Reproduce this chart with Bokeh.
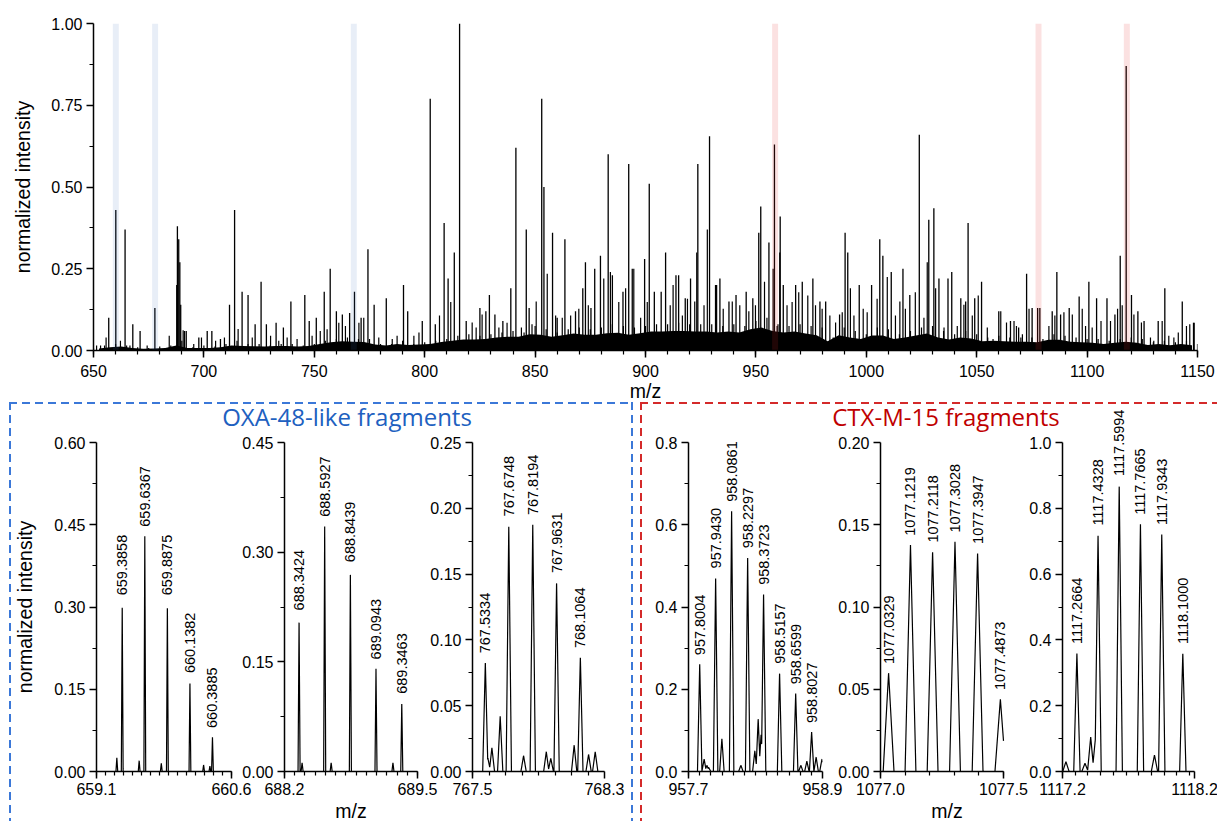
import numpy as np
from bokeh.plotting import figure
from bokeh.models import Range1d, FixedTicker, PrintfTickFormatter, Label, LabelSet, ColumnDataSource
from bokeh.layouts import column, row
from bokeh.embed import file_html
from bokeh.resources import INLINE
from bokeh.core.properties import value

FONT = "Liberation Sans"
TITLE_FONT = "Open Sans"

# ---------------- overview spectrum data ----------------
overview_x_ticks = [650, 700, 750, 800, 850, 900, 950, 1000, 1050, 1100, 1150]
overview_y_ticks = [0.0, 0.25, 0.50, 0.75, 1.00]

# dense low-level background: small spikes every 5 m/z and the filled floor between them
env_top_mz = list(range(650, 1151, 5))
env_top_int = [0.008, 0.015, 0.02, 0.015, 0.01, 0.008, 0.012, 0.015, 0.03, 0.01,
               0.015, 0.012, 0.02, 0.03, 0.02, 0.02, 0.015, 0.02, 0.02, 0.015,
               0.02, 0.03, 0.035, 0.04, 0.035, 0.035, 0.02, 0.02, 0.03, 0.02,
               0.025, 0.03, 0.035, 0.045, 0.05, 0.045, 0.05, 0.055, 0.06, 0.055,
               0.075, 0.065, 0.055, 0.065, 0.07, 0.065, 0.07, 0.08, 0.075, 0.07,
               0.075, 0.08, 0.08, 0.085, 0.08, 0.08, 0.08, 0.075, 0.08, 0.075,
               0.09, 0.10, 0.08, 0.075, 0.08, 0.075, 0.07, 0.04, 0.07, 0.06,
               0.05, 0.07, 0.065, 0.05, 0.06, 0.07, 0.075, 0.06, 0.05, 0.06,
               0.05, 0.04, 0.045, 0.04, 0.04, 0.04, 0.035, 0.05, 0.045, 0.04,
               0.035, 0.035, 0.03, 0.035, 0.04, 0.035, 0.025, 0.03, 0.025, 0.03,
               0.02]
env_low_mz = [652.5 + 5 * k for k in range(100)]
env_low_int = [0.006, 0.01, 0.012, 0.008, 0.005, 0.006, 0.008, 0.015, 0.008, 0.008,
               0.008, 0.01, 0.015, 0.014, 0.013, 0.012, 0.014, 0.014, 0.012, 0.014,
               0.02, 0.025, 0.028, 0.027, 0.026, 0.018, 0.015, 0.02, 0.017, 0.018,
               0.02, 0.026, 0.03, 0.034, 0.034, 0.035, 0.04, 0.042, 0.042, 0.05,
               0.048, 0.042, 0.047, 0.052, 0.048, 0.048, 0.053, 0.054, 0.048, 0.053,
               0.058, 0.058, 0.06, 0.06, 0.058, 0.058, 0.055, 0.058, 0.055, 0.065,
               0.07, 0.06, 0.055, 0.058, 0.052, 0.047, 0.028, 0.047, 0.04, 0.035,
               0.046, 0.046, 0.035, 0.04, 0.046, 0.052, 0.04, 0.034, 0.04, 0.037,
               0.028, 0.03, 0.028, 0.027, 0.027, 0.025, 0.033, 0.033, 0.027, 0.025,
               0.024, 0.02, 0.024, 0.027, 0.024, 0.017, 0.02, 0.016, 0.02, 0.016]

major_mz = [656.9, 660.1, 664.3, 667.8, 671.1, 677.8, 687.7, 688.0, 688.6, 689.1,
            689.5, 691.2, 692.0, 697.7, 701.5, 703.6, 707.5, 711.6, 713.9, 717.3,
            720.0, 723.2, 725.9, 728.3, 732.7, 736.0, 739.4, 745.7, 747.7, 750.9,
            754.5, 757.2, 760.0, 762.7, 766.0, 768.2, 771.2, 774.3, 777.1, 782.6,
            790.4, 792.3, 798.9, 802.5, 804.8, 808.8, 810.6, 813.4, 815.8, 818.8,
            825.0, 827.7, 829.3, 831.8, 835.4, 839.0, 841.3, 846.0, 847.3, 853.0,
            854.0, 857.9, 860.0, 863.5, 868.3, 871.6, 872.8, 875.3, 877.0, 879.6,
            883.1, 885.0, 889.8, 892.4, 894.0, 899.6, 901.7, 904.0, 907.1, 909.1,
            913.8, 915.0, 918.0, 920.4, 923.7, 929.0, 932.2, 933.7, 937.8, 941.0,
            945.6, 948.6, 951.3, 952.2, 955.9, 958.4, 961.0, 962.4, 968.0, 971.0,
            975.8, 979.0, 981.6, 987.9, 990.4, 991.6, 996.8, 1002.4, 1006.1, 1007.5,
            1011.3, 1016.6, 1019.7, 1024.0, 1028.3, 1030.6, 1032.9, 1037.0, 1038.7, 1042.8,
            1045.0, 1046.1, 1049.1, 1052.2, 1060.0, 1065.3, 1069.0, 1072.6, 1075.1, 1077.6,
            1078.6, 1084.2, 1086.3, 1088.0, 1091.9, 1096.4, 1100.8, 1104.3, 1109.0, 1112.6,
            1115.0, 1117.7, 1120.1, 1123.0, 1125.8, 1132.2, 1135.2, 1143.1, 1148.2]
major_int = [0.10, 0.43, 0.37, 0.08, 0.06, 0.13, 0.20, 0.38, 0.34, 0.27,
             0.14, 0.06, 0.06, 0.04, 0.06, 0.06, 0.035, 0.14, 0.43, 0.18,
             0.17, 0.08, 0.21, 0.08, 0.085, 0.07, 0.15, 0.17, 0.09, 0.10,
             0.18, 0.25, 0.12, 0.11, 0.115, 0.18, 0.10, 0.31, 0.14, 0.16,
             0.20, 0.12, 0.09, 0.77, 0.08, 0.39, 0.22, 0.30, 1.00, 0.09,
             0.13, 0.12, 0.17, 0.11, 0.09, 0.19, 0.62, 0.37, 0.13, 0.77,
             0.50, 0.36, 0.10, 0.34, 0.12, 0.19, 0.27, 0.13, 0.25, 0.29,
             0.60, 0.23, 0.18, 0.57, 0.25, 0.28, 0.51, 0.18, 0.18, 0.30,
             0.23, 0.23, 0.16, 0.22, 0.57, 0.655, 0.20, 0.22, 0.15, 0.17,
             0.18, 0.16, 0.36, 0.44, 0.33, 0.63, 0.41, 0.20, 0.20, 0.21,
             0.22, 0.15, 0.15, 0.11, 0.36, 0.30, 0.20, 0.20, 0.34, 0.29,
             0.24, 0.25, 0.17, 0.66, 0.40, 0.435, 0.22, 0.22, 0.24, 0.16,
             0.15, 0.39, 0.16, 0.21, 0.12, 0.09, 0.07, 0.235, 0.13, 0.13,
             0.13, 0.12, 0.24, 0.11, 0.13, 0.165, 0.21, 0.16, 0.16, 0.11,
             0.29, 0.87, 0.17, 0.12, 0.09, 0.09, 0.19, 0.15, 0.085]

minor_mz = [651.4, 653.2, 655.7, 662.2, 666.5, 674.3, 684.3, 690.6, 695.4, 698.9,
            705.3, 709.3, 715.5, 721.9, 730.2, 733.9, 737.7, 742.2, 749.0, 752.7,
            755.8, 761.1, 764.1, 770.2, 772.4, 779.2, 785.3, 787.5, 795.1, 797.4,
            806.7, 811.8, 821.5, 823.3, 826.0, 833.6, 837.3, 843.8, 848.6, 850.5,
            855.5, 859.3, 862.3, 866.1, 869.8, 874.1, 881.1, 884.1, 887.9, 891.0,
            894.7, 897.8, 900.8, 911.2, 912.5, 916.7, 919.0, 922.3, 923.2, 926.5,
            928.0, 931.7, 935.2, 939.3, 942.7, 946.8, 949.8, 953.9, 957.8, 959.6,
            960.8, 964.1, 966.4, 969.4, 973.5, 977.0, 980.0, 983.5, 986.1, 989.1,
            992.8, 994.4, 998.6, 1000.4, 1004.9, 1009.5, 1013.2, 1015.2, 1017.7, 1022.2,
            1026.1, 1027.6, 1031.4, 1035.2, 1041.2, 1044.2, 1048.0, 1050.7, 1054.8, 1057.4,
            1060.9, 1063.5, 1066.9, 1068.0, 1070.7, 1073.7, 1082.7, 1085.4, 1089.5, 1093.3,
            1097.8, 1099.3, 1102.3, 1106.3, 1110.6, 1113.8, 1115.9, 1121.2, 1124.6, 1128.7,
            1130.2, 1134.0, 1137.0, 1139.3, 1141.3, 1145.0, 1146.5, 1148.5]
minor_int = [0.015, 0.015, 0.04, 0.03, 0.015, 0.015, 0.045, 0.062, 0.02, 0.04,
             0.03, 0.04, 0.066, 0.04, 0.045, 0.03, 0.04, 0.035, 0.045, 0.06,
             0.065, 0.085, 0.075, 0.085, 0.10, 0.04, 0.035, 0.045, 0.045, 0.055,
             0.107, 0.148, 0.086, 0.07, 0.11, 0.07, 0.085, 0.07, 0.08, 0.15,
             0.235, 0.107, 0.10, 0.107, 0.128, 0.138, 0.22, 0.24, 0.148, 0.19,
             0.25, 0.10, 0.148, 0.138, 0.20, 0.107, 0.158, 0.15, 0.30, 0.138,
             0.37, 0.20, 0.128, 0.15, 0.138, 0.12, 0.138, 0.21, 0.25, 0.075,
             0.30, 0.138, 0.148, 0.178, 0.168, 0.138, 0.128, 0.107, 0.086, 0.117,
             0.19, 0.107, 0.128, 0.117, 0.158, 0.225, 0.107, 0.15, 0.128, 0.178,
             0.10, 0.27, 0.19, 0.07, 0.075, 0.14, 0.107, 0.168, 0.07, 0.035,
             0.12, 0.086, 0.09, 0.075, 0.05, 0.128, 0.075, 0.107, 0.117, 0.11,
             0.128, 0.075, 0.07, 0.09, 0.09, 0.128, 0.138, 0.11, 0.086, 0.04,
             0.03, 0.09, 0.045, 0.04, 0.055, 0.075, 0.08, 0.085]

oxa_band_mz = [660.1, 677.9, 767.9]
ctx_band_mz = [958.7, 1078.0, 1118.0]
band_width = 2.7

# ---------------- zoomed fragment panels ----------------
group_titles = ["OXA-48-like fragments", "CTX-M-15 fragments"]

panels = [
    dict(xr=(659.1, 660.6), ymax=0.60, yticks=[0.0, 0.15, 0.30, 0.45, 0.60], yfmt="%.2f",
         mz=[659.3858, 659.6367, 659.8875, 660.1382, 660.3885],
         inten=[0.305, 0.43, 0.305, 0.163, 0.063],
         minor_mz=[659.326, 659.574, 659.82, 660.29, 660.36],
         minor_int=[0.025, 0.02, 0.015, 0.012, 0.01], w=0.010),
    dict(xr=(688.2, 689.5), ymax=0.45, yticks=[0.0, 0.15, 0.30, 0.45], yfmt="%.2f",
         mz=[688.3424, 688.5927, 688.8439, 689.0943, 689.3463],
         inten=[0.208, 0.336, 0.274, 0.141, 0.094],
         minor_mz=[688.372, 688.656, 689.26],
         minor_int=[0.012, 0.012, 0.012], w=0.010),
    dict(xr=(767.456, 768.252), ymax=0.25, yticks=[0.0, 0.05, 0.10, 0.15, 0.20, 0.25], yfmt="%.2f",
         mz=[767.5334, 767.6748, 767.8194, 767.9631, 768.1064],
         inten=[0.083, 0.187, 0.188, 0.144, 0.087],
         minor_mz=[767.549, 767.573, 767.623, 767.764, 767.901, 767.928, 768.069, 768.156, 768.196],
         minor_int=[0.01, 0.018, 0.042, 0.012, 0.015, 0.01, 0.02, 0.013, 0.015], w=0.016),
    dict(xr=(957.7, 958.9), ymax=0.8, yticks=[0.0, 0.2, 0.4, 0.6, 0.8], yfmt="%.1f",
         mz=[957.8004, 957.9430, 958.0861, 958.2297, 958.3723, 958.5157, 958.6599, 958.8027],
         inten=[0.261, 0.472, 0.634, 0.521, 0.432, 0.24, 0.19, 0.096],
         minor_mz=[957.84, 957.865, 957.88, 957.999, 958.169, 958.294, 958.324, 958.35,
                   958.706, 958.76, 958.843, 958.895],
         minor_int=[0.03, 0.015, 0.01, 0.08, 0.015, 0.05, 0.128, 0.09,
                    0.015, 0.025, 0.035, 0.03], w=0.020),
    dict(xr=(1077.0, 1077.5), ymax=0.20, yticks=[0.0, 0.05, 0.10, 0.15, 0.20], yfmt="%.2f",
         mz=[1077.0329, 1077.1219, 1077.2118, 1077.3028, 1077.3947, 1077.4873],
         inten=[0.0599, 0.1378, 0.1337, 0.1398, 0.1329, 0.044],
         minor_mz=[], minor_int=[], w=0.022),
    dict(xr=(1117.153, 1118.192), ymax=1.0, yticks=[0.0, 0.2, 0.4, 0.6, 0.8, 1.0], yfmt="%.1f",
         mz=[1117.2664, 1117.4328, 1117.5994, 1117.7665, 1117.9343, 1118.1000],
         inten=[0.36, 0.72, 0.871, 0.753, 0.722, 0.36],
         minor_mz=[1117.18, 1117.33, 1117.375, 1117.412, 1117.877],
         minor_int=[0.03, 0.025, 0.105, 0.10, 0.05], w=0.025),
]

# layout constants (pixels): min_border_left, frame_width, min_border_right, margin_left,
# extra frame room above the top tick, extra frame room right of the last tick
panel_geom = [
    (82, 135, 23, 0, 0, 0), (44, 133, 24, -15, 0, 0), (45, 132, 27, -14, 0, 0),
    (46, 134, 24, 0, 40, 0), (50, 123, 26, -16, 40, 10), (36, 132, 27, -3, 40, 0),
]
FRAME_H = 329

BLUE_TXT = "#2060C0"
BLUE_DASH = "#3B78D8"
RED_TXT = "#C00000"
RED_DASH = "#D42A2A"


def style_axes(f, tick_size="16px", label_size="19.5px"):
    for ax in (f.xaxis[0], f.yaxis[0]):
        ax.axis_line_width = 1.5
        ax.axis_line_color = "black"
        ax.major_tick_line_width = 1.5
        ax.major_tick_line_color = "black"
        ax.minor_tick_line_width = 1.2
        ax.minor_tick_line_color = "black"
        ax.major_tick_in = 0
        ax.major_tick_out = 7
        ax.minor_tick_in = 0
        ax.minor_tick_out = 4
        ax.major_label_text_font = FONT
        ax.major_label_text_font_size = tick_size
        ax.major_label_text_color = "black"
        ax.axis_label_text_font = FONT
        ax.axis_label_text_font_size = label_size
        ax.axis_label_text_font_style = "normal"
        ax.axis_label_text_color = "black"
        ax.major_label_standoff = 4
    f.xgrid.visible = False
    f.ygrid.visible = False


# ---------------- top overview figure ----------------
top = figure(frame_width=1104, frame_height=327, x_range=Range1d(650, 1150), y_range=Range1d(0, 1),
             min_border_left=93, min_border_right=20, min_border_top=23, min_border_bottom=64,
             output_backend="svg", toolbar_location=None, outline_line_color=None)
top.varea(x=env_low_mz, y1=[0.0] * len(env_low_mz), y2=env_low_int, fill_color="black")
top.segment(x0=env_top_mz, y0=[0.0] * len(env_top_mz), x1=env_top_mz, y1=env_top_int,
            line_color="black", line_width=1.2)
top.segment(x0=major_mz, y0=[0.0] * len(major_mz), x1=major_mz, y1=major_int,
            line_color="black", line_width=1.3)
top.segment(x0=minor_mz, y0=[0.0] * len(minor_mz), x1=minor_mz, y1=minor_int,
            line_color="black", line_width=1.2)
top.vbar(x=oxa_band_mz, width=band_width, top=1.0, bottom=0.0,
         fill_color="#3F71BC", fill_alpha=0.12, line_color=None)
top.vbar(x=ctx_band_mz, width=band_width, top=1.0, bottom=0.0,
         fill_color="#E62828", fill_alpha=0.14, line_color=None)
style_axes(top)
top.xaxis.ticker = FixedTicker(ticks=overview_x_ticks, minor_ticks=list(range(650, 1151, 10)))
top.yaxis.ticker = FixedTicker(ticks=overview_y_ticks, minor_ticks=[0.125, 0.375, 0.625, 0.875])
top.yaxis.formatter = PrintfTickFormatter(format="%.2f")
top.xaxis.axis_label = "m/z"
top.yaxis.axis_label = "normalized intensity"
top.xaxis.major_label_standoff = 7
top.xaxis.axis_label_standoff = 0
top.yaxis.axis_label_standoff = 14


def make_panel(d, geom, ylabel=None, xlabel=None):
    L, fw, R, ml, ext_t, ext_r = geom
    lo, hi = d["xr"]
    ymax = d["ymax"]
    hi_ext = hi + ext_r * (hi - lo) / fw
    ymax_ext = ymax * (FRAME_H + ext_t) / FRAME_H
    f = figure(frame_width=fw + ext_r, frame_height=FRAME_H + ext_t,
               x_range=Range1d(lo, hi_ext), y_range=Range1d(0, ymax_ext),
               min_border_left=L, min_border_right=R - ext_r, min_border_top=40 - ext_t,
               min_border_bottom=50,
               output_backend="svg", toolbar_location=None, outline_line_color=None,
               border_fill_color=None, background_fill_color=None, margin=(0, 0, 0, ml))
    cm = np.array(d["mz"] + d["minor_mz"], dtype=float)
    ch = np.array(d["inten"] + d["minor_int"], dtype=float)
    xs = np.linspace(lo, hi, 3000)
    tri = ch[:, None] * np.clip(1 - np.abs(xs[None, :] - cm[:, None]) / d["w"], 0, None)
    ys = tri.max(axis=0)
    f.line(xs, ys, line_color="black", line_width=1.2)
    src = ColumnDataSource(dict(x=d["mz"], y=d["inten"], t=["%.4f" % m for m in d["mz"]]))
    f.add_layout(LabelSet(x="x", y="y", text="t", source=src, angle=np.pi / 2,
                          text_align="left", text_baseline="middle", y_offset=9,
                          text_font=value(FONT), text_font_size="14.5px", text_color="black"))
    style_axes(f)
    yt = d["yticks"]
    ym = [(a + b) / 2 for a, b in zip(yt[:-1], yt[1:])]
    f.yaxis.ticker = FixedTicker(ticks=yt, minor_ticks=ym)
    f.yaxis.formatter = PrintfTickFormatter(format=d["yfmt"])
    f.yaxis.bounds = (0, ymax)
    n = int(round((hi - lo) / 0.1))
    f.xaxis.ticker = FixedTicker(ticks=[lo, hi], minor_ticks=[lo + 0.1 * k for k in range(n + 1)])
    f.xaxis.formatter = PrintfTickFormatter(format="%.1f")
    f.xaxis.bounds = (lo, hi)
    if ylabel:
        f.yaxis.axis_label = ylabel
        f.yaxis.axis_label_standoff = 15
    if xlabel:
        f.xaxis.axis_label = xlabel
        f.xaxis.axis_label_standoff = 2
    return f


pfigs = []
for i, (d, g) in enumerate(zip(panels, panel_geom)):
    pfigs.append(make_panel(d, g,
                            ylabel="normalized intensity" if i == 0 else None,
                            xlabel="m/z" if i in (1, 4) else None))


def title_fig(text, width, cx, color):
    f = figure(width=width, height=40, x_range=Range1d(0, width), y_range=Range1d(0, 40),
               min_border=0, output_backend="svg", toolbar_location=None, outline_line_color=None,
               border_fill_color=None, background_fill_color=None, margin=(-6, 0, 0, 0))
    f.axis.visible = False
    f.grid.visible = False
    f.add_layout(Label(x=cx, y=22, text=text, text_align="center", text_baseline="middle",
                       text_font=TITLE_FONT, text_font_size="24px", text_color=color))
    return f


def dashed_box(color, sides):
    grads, sizes, poss = [], [], []
    for s in sides:
        if s == "top":
            grads.append("repeating-linear-gradient(90deg, %s 0 8px, transparent 8px 13px)" % color)
            sizes.append("100% 2px")
            poss.append("0 0")
        elif s == "left":
            grads.append("repeating-linear-gradient(180deg, %s 0 8px, transparent 8px 13px)" % color)
            sizes.append("2px 100%")
            poss.append("0 0")
        elif s == "right":
            grads.append("repeating-linear-gradient(180deg, %s 0 8px, transparent 8px 13px)" % color)
            sizes.append("2px 100%")
            poss.append("100% 0")
    st = {"background-image": ", ".join(grads), "background-size": ", ".join(sizes),
          "background-position": ", ".join(poss), "background-repeat": "no-repeat",
          "background-origin": "border-box", "background-clip": "border-box"}
    for s in sides:
        st["border-" + s] = "2px solid transparent"
    return st


blue_title = title_fig(group_titles[0], 616, 335.5, BLUE_TXT)
red_title = title_fig(group_titles[1], 579, 303.5, RED_TXT)

blue_box = column(blue_title, row(*pfigs[:3], margin=(-36, 0, 0, 0)), margin=(-12, 0, 0, 9),
                  styles=dashed_box(BLUE_DASH, ["top", "left", "right"]))
red_box = column(red_title, row(*pfigs[3:], margin=(-36, 0, 0, 0)), margin=(-12, 0, 0, 7),
                 styles=dashed_box(RED_DASH, ["top", "left"]))

layout = column(top, row(blue_box, red_box))

open("out.html", "w").write(file_html(layout, INLINE))
